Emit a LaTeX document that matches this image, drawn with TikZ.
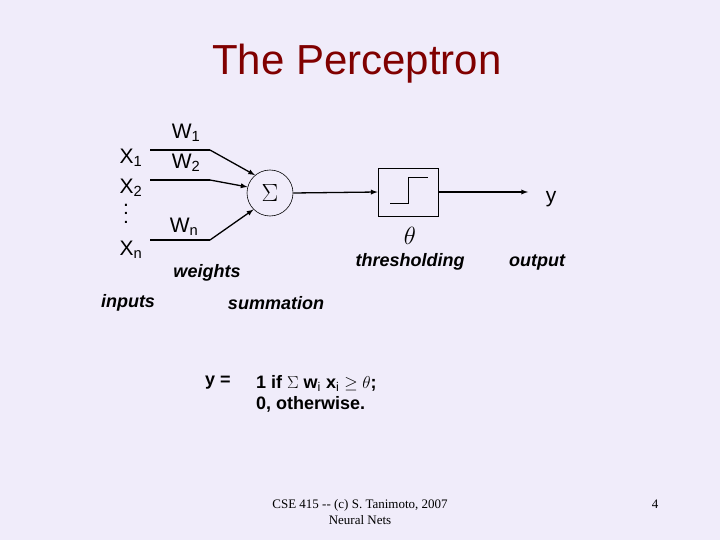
\documentclass[tikz,border=0pt]{standalone}
\usepackage{fontspec}
\setmainfont{Liberation Sans}
\newfontfamily\serifft{Liberation Serif}
\begin{document}
\begin{tikzpicture}[x=1pt,y=-1pt,
  lbl/.style={inner sep=0pt,font=\fontsize{21}{24}\selectfont},
  captxt/.style={inner sep=0pt,font=\fontsize{18}{21}\selectfont\bfseries\itshape},
  ln/.style={line width=1.3pt},
  arr/.style={ln,-latex}]
\fill[fill={rgb,255:red,240;green,236;blue,250}] (0,0) rectangle (720,540);
\useasboundingbox (0,0) rectangle (720,540);
\node[inner sep=0pt,text={rgb,255:red,128;green,0;blue,0},font=\fontsize{42}{46}\selectfont] (title) at (357,64) {The Perceptron};
\node[lbl] (x1) at (131,158) {X$_{\mathrm{1}}$};
\node[lbl] (x2) at (131,188) {X$_{\mathrm{2}}$};
\node[lbl] (dots) at (126,218) {:};
\node[lbl] (dots2) at (126,205) {.};
\node[lbl] (xn) at (131,250) {X$_{\mathrm{n}}$};
\node[lbl] (w1) at (186,133) {W$_{\mathrm{1}}$};
\node[lbl] (w2) at (186,163) {W$_{\mathrm{2}}$};
\node[lbl] (wn) at (184,227) {W$_{\mathrm{n}}$};
\coordinate (a1) at (150,150); \coordinate (b1) at (210,150);
\coordinate (a2) at (150,180); \coordinate (b2) at (210,180);
\coordinate (an) at (150,240); \coordinate (bn) at (210,240);
\node[draw,circle,minimum size=46pt,inner sep=0pt,line width=0.6pt,font=\serifft\fontsize{24}{26}\selectfont] (sum) at (270,193) {$\Sigma$};
\draw[ln] (a1)--(b1); \draw[arr] (b1)--(sum.130);
\draw[ln] (a2)--(b2); \draw[arr] (b2)--(sum.165);
\draw[ln] (an)--(bn); \draw[arr] (bn)--(sum.-135);
\node[draw,minimum width=60pt,minimum height=48pt,line width=0.8pt] (box) at (408,192) {};
\draw[line width=1pt] (390,204)--(408,204)--(408,178)--(428,178);
\draw[arr] (sum.east)--(box.west);
\coordinate (yend) at (528,192);
\draw[arr] (box.east)--(yend);
\node[lbl] (y) at (551,199) {y};
\node[inner sep=0pt,font=\serifft\fontsize{24}{26}\selectfont] (theta) at (410,236) {$\theta$};
\node[captxt] (thr) at (410,262) {thresholding};
\node[captxt] (out) at (537,262) {output};
\node[captxt] (wts) at (207,273) {weights};
\node[captxt] (inp) at (128,303) {inputs};
\node[captxt] (sm) at (276,303) {summation};
\node[inner sep=0pt,font=\fontsize{18}{21}\selectfont\bfseries] (yeq) at (218,383) {y =};
\node[inner sep=0pt,anchor=west,align=left,font=\fontsize{18}{21}\selectfont\bfseries] (rule) at (256,394) {1 if {\serifft$\Sigma$} w$_{\mathrm{i}}$ x$_{\mathrm{i}}$ {\serifft$\geq$ $\theta$};\\0, otherwise.};
\node[inner sep=0pt,align=center,font=\serifft\fontsize{13}{16}\selectfont] (foot) at (360,512) {CSE 415 -- (c) S. Tanimoto, 2007\\Neural Nets};
\node[inner sep=0pt,font=\serifft\fontsize{13}{16}\selectfont] (pg) at (655,504) {4};
\end{tikzpicture}
\end{document}
